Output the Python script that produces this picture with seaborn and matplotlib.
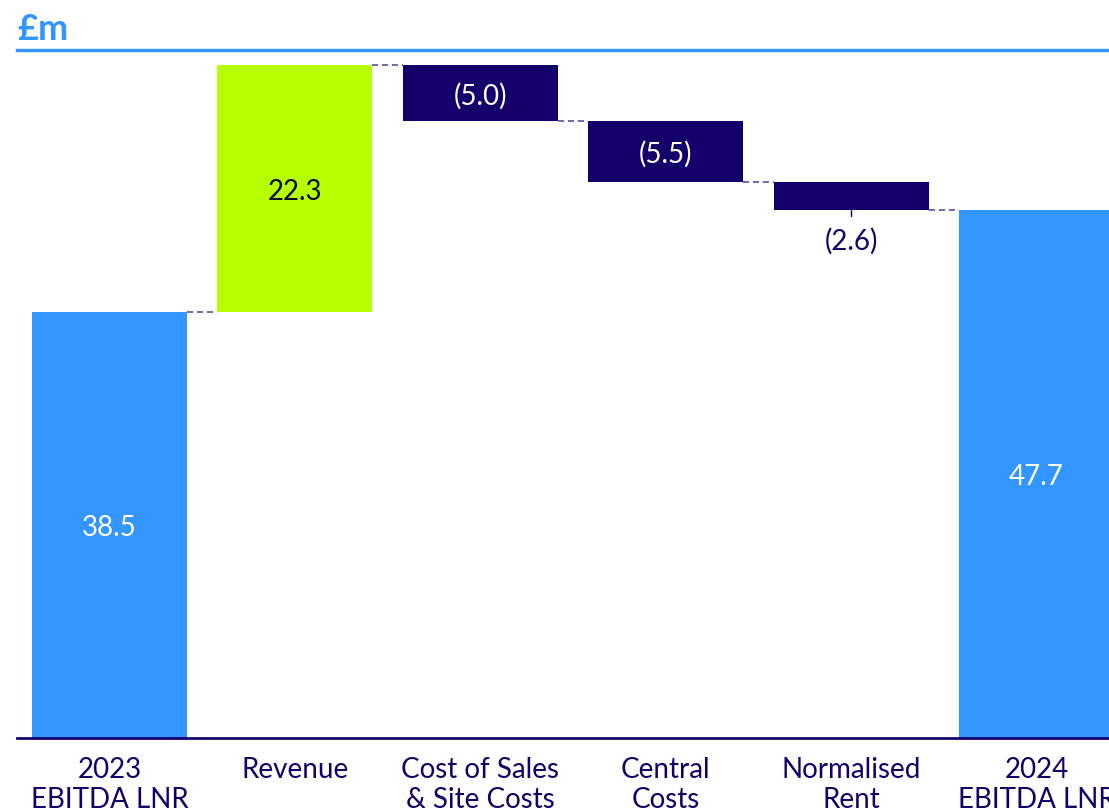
import numpy as np
import matplotlib
matplotlib.use("Agg")
import matplotlib.pyplot as plt
import seaborn as sns

categories = ["2023\nEBITDA LNR", "Revenue", "Cost of Sales\n& Site Costs",
              "Central\nCosts", "Normalised\nRent", "2024\nEBITDA LNR"]
values = [38.5, 22.3, -5.0, -5.5, -2.6, 47.7]
kinds = ["total", "up", "down", "down", "down", "total"]
labels = ["38.5", "22.3", "(5.0)", "(5.5)", "(2.6)", "47.7"]

BLUE = "#3395FF"
LIME = "#B5FF00"
NAVY = "#13006A"
colors = {"total": BLUE, "up": LIME, "down": NAVY}

# running waterfall levels
bottoms, heights = [], []
level = 0.0
for v, k in zip(values, kinds):
    if k == "total":
        b, h = 0.0, v
        level = v
    elif v >= 0:
        b, h = level, v
        level += v
    else:
        b, h = level + v, -v
        level += v
    bottoms.append(b)
    heights.append(h)

sns.set_theme(style="white")
plt.rcParams["font.family"] = ["Lato", "DejaVu Sans"]

fig = plt.figure(figsize=(11.09, 8.12), dpi=100)
ax = fig.add_axes([17 / 1109, (812 - 739) / 812, 1 - 17 / 1109, (739 - 51) / 812])

sns.barplot(x=categories, y=heights, bottom=bottoms, width=0.836,
            color=BLUE, ax=ax, zorder=2)
for patch, k in zip(ax.patches, kinds):
    patch.set_facecolor(colors[k])
    patch.set_edgecolor("none")

ax.set_xlim(-0.499, 5.391)
ax.set_ylim(0, 62.2)

# dashed connectors between consecutive bars
half = 0.836 / 2
running = np.cumsum(values[:-1])
for i, lvl in enumerate(running):
    ax.plot([i + half, i + 1 - half], [lvl, lvl], ls=(0, (4, 2.5)),
            color=NAVY, lw=1.1, alpha=0.75, zorder=1)

# value labels
for i, (lab, k) in enumerate(zip(labels, kinds)):
    if k == "down" and heights[i] < 4:
        ax.plot([i, i], [bottoms[i], bottoms[i] - 0.5], color=NAVY, lw=1, zorder=3)
        ax.text(i, bottoms[i] - 2.7, lab, ha="center", va="center",
                fontsize=20, color=NAVY, zorder=4)
    else:
        c = "#0A0A2A" if k == "up" else "white"
        ax.text(i, bottoms[i] + heights[i] / 2 - 0.2, lab, ha="center", va="center",
                fontsize=20, color=c, zorder=4)

for s in ["left", "right"]:
    ax.spines[s].set_visible(False)
ax.spines["top"].set_color(BLUE)
ax.spines["top"].set_linewidth(2.5)
ax.spines["bottom"].set_color(NAVY)
ax.spines["bottom"].set_linewidth(2)
ax.set_yticks([])
ax.set_ylabel("")
ax.tick_params(axis="x", length=0, pad=13, labelsize=20, labelcolor=NAVY)
for t in ax.get_xticklabels():
    t.set_linespacing(1.2)
    t.set_va("top")

fig.text(17 / 1109, 1 - 29 / 812, "£m", fontsize=26, fontweight="bold",
         color=BLUE, ha="left", va="center")

fig.savefig("out.png", dpi=100)
